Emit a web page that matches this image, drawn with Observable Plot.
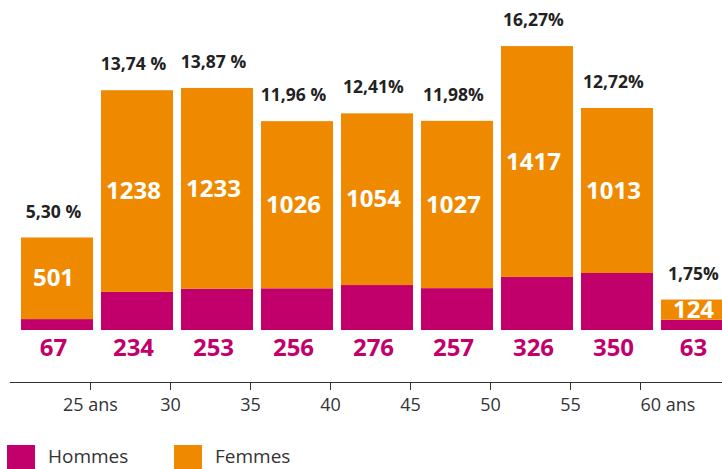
<!DOCTYPE html>
<html>
<head>
<meta charset="utf-8">
<script src="https://cdn.jsdelivr.net/npm/d3@7"></script>
<script src="https://cdn.jsdelivr.net/npm/@observablehq/plot@0.6"></script>
<style>
  html, body { margin: 0; padding: 0; background: #fff; overflow: hidden; }
  body { width: 722px; height: 469px; position: relative; font-family: "Open Sans", sans-serif; }
  #legend { position: absolute; left: 0; top: 445px; width: 722px; height: 24px; }
  .item { position: absolute; top: 0; height: 24px; display: flex; align-items: flex-start; }
  .sw { width: 28px; height: 24px; }
  .lab { font-size: 19px; color: #333; font-weight: 400; margin-left: 13px; line-height: 22px; height: 22px; }
</style>
</head>
<body>
<div id="chart"></div>
<div id="legend"></div>
<script>
// ---- data ----
const ageStart = [20, 25, 30, 35, 40, 45, 50, 55, 60];
const hommes = [67, 234, 253, 256, 276, 257, 326, 350, 63];
const femmes = [501, 1238, 1233, 1026, 1054, 1027, 1417, 1013, 124];
const pctLabels = ["5,30 %", "13,74 %", "13,87 %", "11,96 %", "12,41%", "11,98%", "16,27%", "12,72%", "1,75%"];
const tickValues = [25, 30, 35, 40, 45, 50, 55, 60];
const tickLabels = ["25 ans", "30", "35", "40", "45", "50", "55", "60 ans"];
const series = ["Hommes", "Femmes"];
const colors = ["#c2006b", "#ef8a00"];

// ---- derived table ----
const bins = ageStart.map((a, i) => ({
  x1: a, x2: a + 5, xm: a + 2.5,
  h: hommes[i], f: femmes[i], total: hommes[i] + femmes[i], pct: pctLabels[i]
}));
const segs = bins.flatMap(b => [
  {x1: b.x1, x2: b.x2, y1: 0, y2: b.h, s: series[0]},
  {x1: b.x1, x2: b.x2, y1: b.h, y2: b.total, s: series[1]}
]);
const tickLabel = new Map(tickValues.map((t, i) => [t, tickLabels[i]]));
const lastTick = tickValues[tickValues.length - 1];

const chart = Plot.plot({
  width: 722,
  height: 440,
  marginLeft: 10,
  marginRight: 0,
  marginTop: 0,
  marginBottom: 58,
  x: {domain: [20, 64.5]},
  y: {domain: [0, 2000], range: [330, 4.2], axis: null},
  color: {domain: series, range: colors},
  style: {fontFamily: "Open Sans, sans-serif", background: "white", overflow: "hidden"},
  marks: [
    Plot.rect(segs, {x1: "x1", x2: "x2", y1: "y1", y2: "y2", fill: "s", insetLeft: 8, dx: 3}),
    Plot.frame({anchor: "bottom", stroke: "#333", strokeWidth: 1.2}),
    Plot.axisX({
      ticks: tickValues.filter(t => t !== lastTick),
      tickFormat: d => tickLabel.get(d),
      tickSize: 8, tickPadding: 8, fontSize: 18, fill: "#333", stroke: "#333", label: null
    }),
    Plot.axisX({
      ticks: [lastTick],
      tickFormat: d => tickLabel.get(d),
      tickSize: 8, tickPadding: 8, fontSize: 18, fill: "#333", stroke: "#333", label: null,
      textAnchor: "start", dx: -10
    }),
    Plot.text(bins, {x: "xm", y: "total", text: "pct", dx: 3, dy: -26, fontSize: 17.5, fontWeight: 700, fill: "#222"}),
    Plot.text(bins, {x: "xm", y: d => d.h + d.f / 2, text: d => String(d.f), dx: 3, fontSize: 24, fontWeight: 700, fill: "white"}),
    Plot.text(bins, {x: "xm", y: 0, text: d => String(d.h), dx: 3, dy: 18, fontSize: 24, fontWeight: 700, fill: colors[0]})
  ]
});
document.getElementById("chart").appendChild(chart);

// ---- legend ----
const legend = document.getElementById("legend");
const legendX = [7, 174];
series.forEach((s, i) => {
  const it = document.createElement("div");
  it.className = "item";
  it.style.left = legendX[i] + "px";
  const sw = document.createElement("div");
  sw.className = "sw";
  sw.style.background = colors[i];
  const lab = document.createElement("span");
  lab.className = "lab";
  lab.textContent = s;
  it.appendChild(sw);
  it.appendChild(lab);
  legend.appendChild(it);
});
</script>
</body>
</html>
